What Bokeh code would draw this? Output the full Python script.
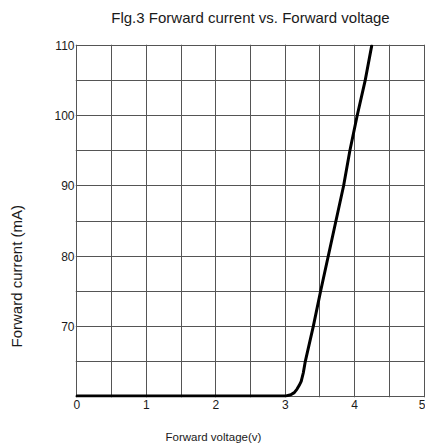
from bokeh.plotting import figure
from bokeh.models import Range1d, FixedTicker, Title
from bokeh.embed import file_html
from bokeh.resources import INLINE

# ---- data ----
voltage = [0.0, 3.0, 3.08, 3.13, 3.17, 3.20, 3.23, 3.26, 3.29, 3.405, 3.51, 3.62, 3.73, 3.84, 3.93, 4.035, 4.15, 4.245]
current = [60.0, 60.0, 60.2, 60.5, 61.0, 61.5, 62.1, 63.3, 65.0, 70.0, 75.0, 80.0, 85.0, 90.0, 95.0, 100.0, 105.0, 110.0]

x_ticks = [0, 1, 2, 3, 4, 5]
y_ticks = [70, 80, 90, 100, 110]
x_grid = [0, 0.5, 1, 1.5, 2, 2.5, 3, 3.5, 4, 4.5, 5]
y_grid = [60, 65, 70, 75, 80, 85, 90, 95, 100, 105, 110]

title_text = "Flg.3 Forward current vs. Forward voltage"
x_label_text = "Forward voltage(v)"
y_label_text = "Forward current (mA)"

FONT = "Liberation Sans"
GRID = "#555555"
TXT = "#1a1a1a"

p = figure(width=425, height=447, output_backend="svg", toolbar_location=None,
           x_range=Range1d(-0.02, 5.02), y_range=Range1d(59.8, 110.2),
           min_border_left=75, min_border_right=0, min_border_top=44, min_border_bottom=50)
p.background_fill_color = "white"
p.border_fill_color = "white"
p.outline_line_color = None

p.xgrid.ticker = FixedTicker(ticks=x_grid)
p.ygrid.ticker = FixedTicker(ticks=y_grid)
for g in (p.xgrid, p.ygrid):
    g.grid_line_color = GRID
    g.grid_line_width = 1

for ax, ticks in ((p.xaxis[0], x_ticks), (p.yaxis[0], y_ticks)):
    ax.ticker = FixedTicker(ticks=ticks)
    ax.axis_line_color = None
    ax.major_tick_line_color = None
    ax.minor_tick_line_color = None
    ax.major_tick_in = 0
    ax.major_tick_out = 0
    ax.major_label_text_font = FONT
    ax.major_label_text_font_size = "12px"
    ax.major_label_text_color = TXT
p.yaxis[0].major_label_standoff = 1
p.xaxis[0].major_label_standoff = 2

p.line(voltage, current, line_color="black", line_width=3, line_join="round", line_cap="round")


def pad(t, top=0, bottom=0, fallback=0):
    try:
        t.padding = dict(left=0, right=0, top=top, bottom=bottom)
        t.standoff = 0
    except Exception:
        t.standoff = fallback


p.title.text = title_text
p.title.align = "center"
p.title.text_font = FONT
p.title.text_font_size = "15px"
p.title.text_font_style = "normal"
p.title.text_color = TXT
pad(p.title, bottom=19, fallback=19)

xt = Title(text=x_label_text, align="left", offset=90,
           text_font=FONT, text_font_size="11.5px", text_font_style="normal", text_color=TXT)
pad(xt, top=17, fallback=18)
p.add_layout(xt, "below")

yt = Title(text=y_label_text, align="left", offset=50,
           text_font=FONT, text_font_size="15px", text_font_style="normal", text_color=TXT)
pad(yt, bottom=27, fallback=28)
p.add_layout(yt, "left")

open("out.html", "w").write(file_html(p, INLINE))
